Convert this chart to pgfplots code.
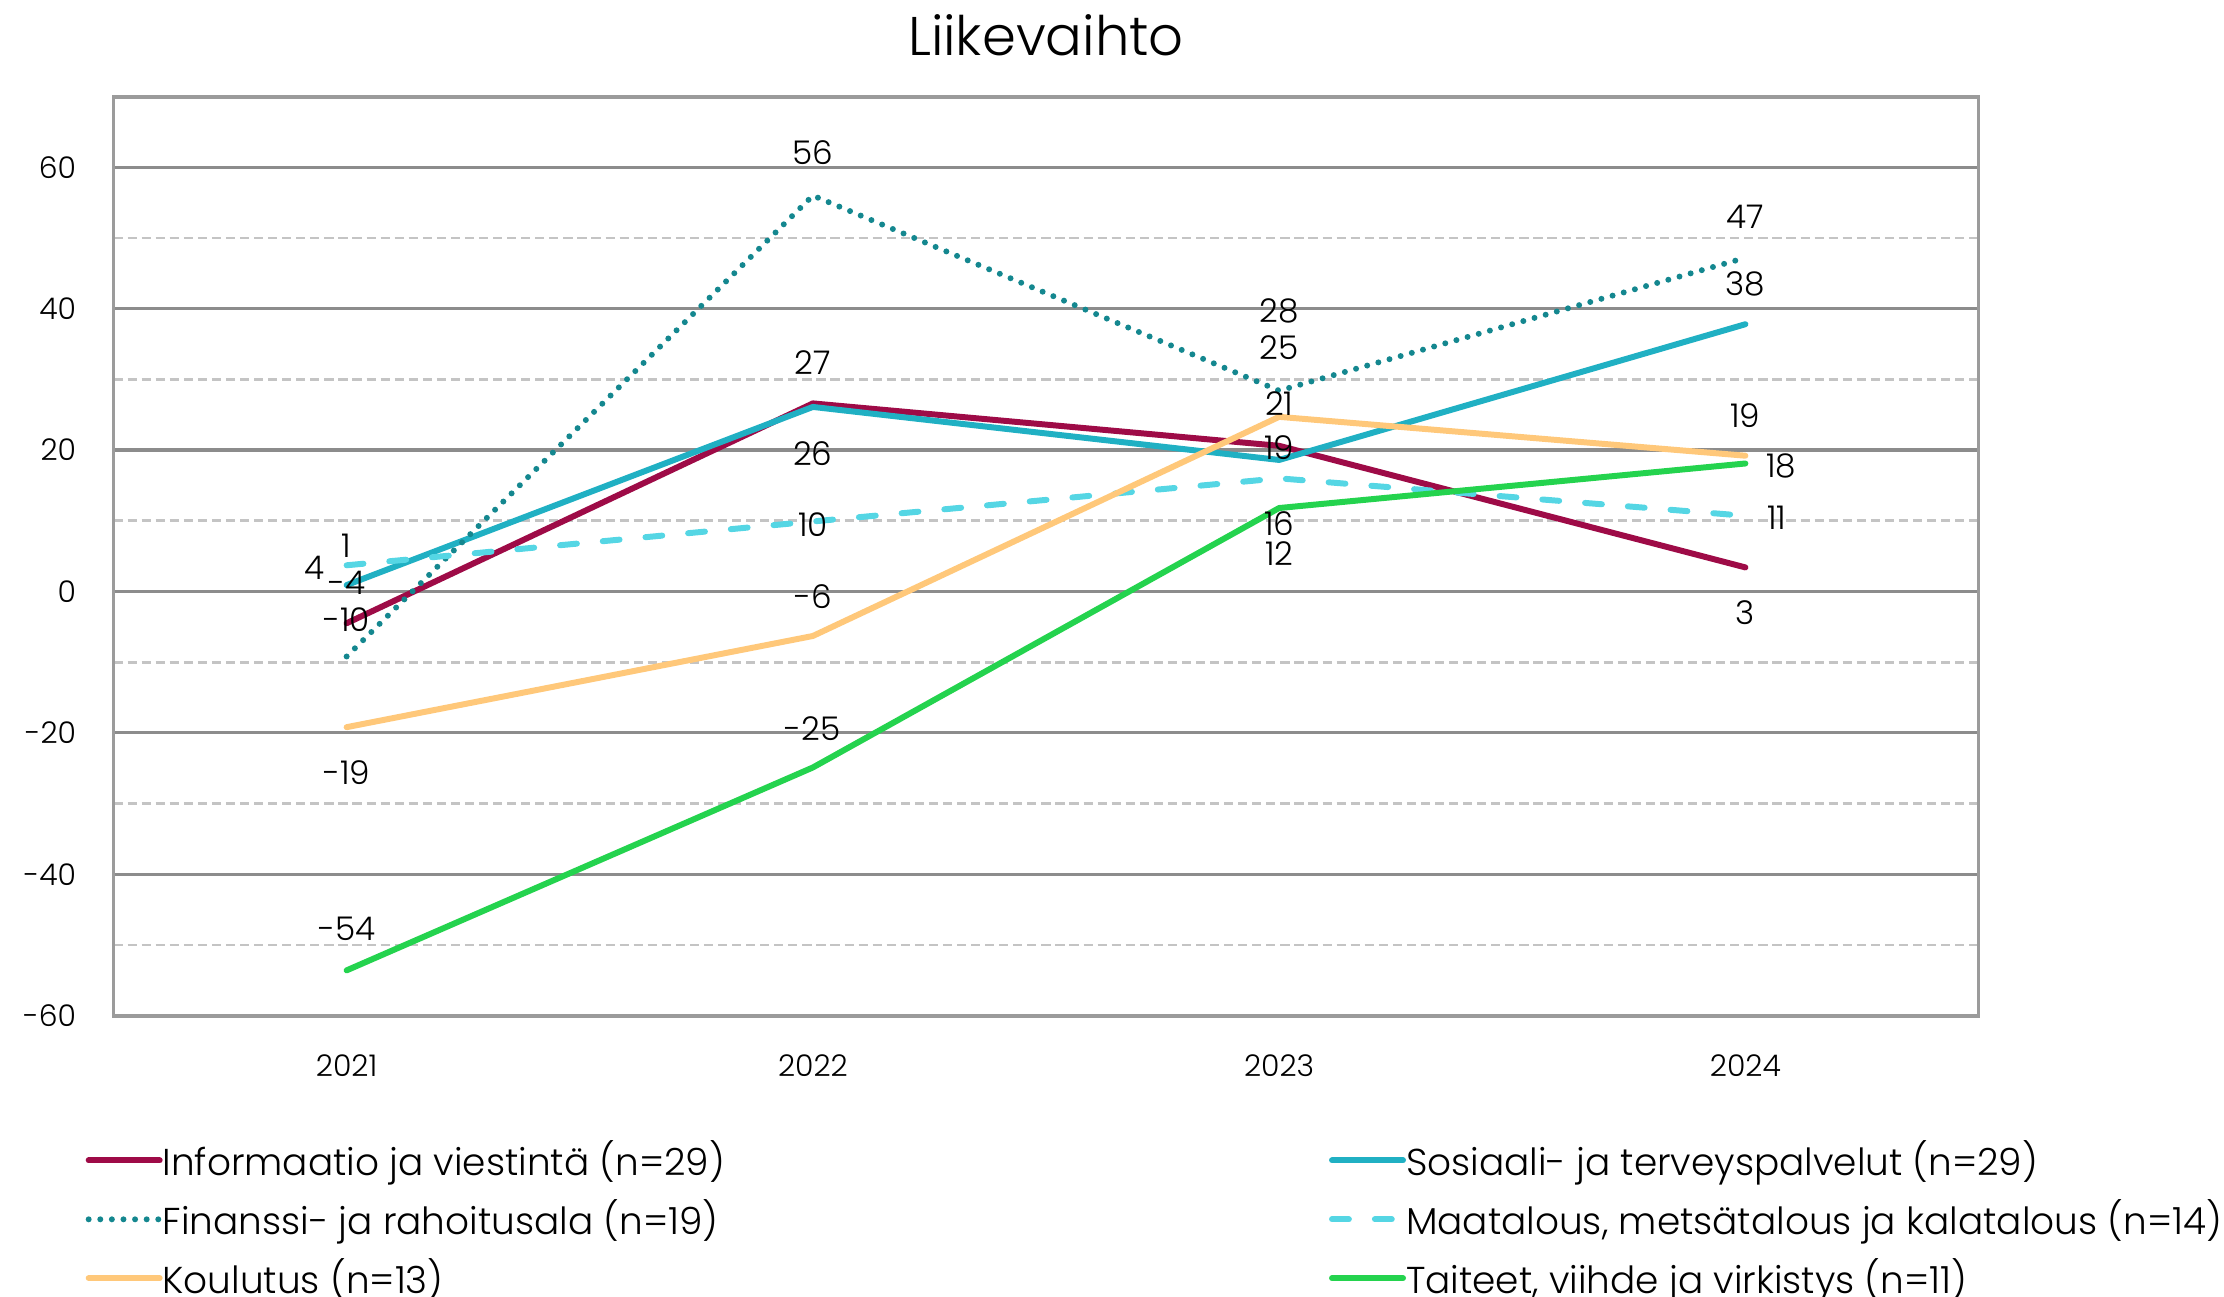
\documentclass[border=0pt]{standalone}
\usepackage{fontspec}
\setmainfont{Poppins}[UprightFont=* Light]
\usepackage{pgfplots}
\usepackage{pgfplotstable}
\pgfplotsset{compat=1.18}
\definecolor{cinfo}{HTML}{9E0B47}
\definecolor{csos}{HTML}{20B0C3}
\definecolor{cfin}{HTML}{14878F}
\definecolor{cmaa}{HTML}{55D6E4}
\definecolor{ckou}{HTML}{FFC87A}
\definecolor{ctai}{HTML}{24D34E}
\definecolor{gridmaj}{HTML}{8C8C8C}
\definecolor{gridmin}{HTML}{C4C4C4}
\definecolor{boxgray}{HTML}{9B9B9B}

% x y label, label offset dx dy in mm
\pgfplotstableread{
x y lab dx dy
0 -4.5 -4 0 4.07
1 26.6 27 0 4.11
2 20.6 21 0 4.26
3 3.4 3 0 -4.50
}\tinfo
\pgfplotstableread{
x y lab dx dy
0 0.9 1 0 3.97
1 26.1 26 0 -4.68
2 18.6 19 0 1.25
3 37.8 38 0 4.04
}\tsos
\pgfplotstableread{
x y lab dx dy
0 -9.2 -10 0 3.73
1 56.0 56 0 4.26
2 28.4 28 0 8.00
3 47.2 47 0 4.10
}\tfin
\pgfplotstableread{
x y lab dx dy
0 3.7 4 -3.26 -0.23
1 9.9 10 0 -0.27
2 16.0 16 0 -4.54
3 10.7 11 3.16 -0.24
}\tmaa
\pgfplotstableread{
x y lab dx dy
0 -19.2 -19 0 -4.54
1 -6.3 -6 0 3.93
2 24.7 25 0 6.92
3 19.2 19 0 4.04
}\tkou
\pgfplotstableread{
x y lab dx dy
0 -53.6 -54 0 4.11
1 -24.9 -25 0 3.90
2 11.8 12 0 -4.54
3 18.1 18 3.60 -0.23
}\ttai

\pgfplotsset{
  lbl/.style={
    line width=1.7pt, line cap=round, line join=round,
    nodes near coords, point meta=explicit symbolic,
    visualization depends on={\thisrow{dx} \as \dx},
    visualization depends on={\thisrow{dy} \as \dy},
    every node near coord/.append style={anchor=center, inner sep=0pt,
      xshift=\dx*1mm, yshift=\dy*1mm, text=black,
      font=\fontsize{9.3}{11}\selectfont},
  }
}

\begin{document}
\begin{tikzpicture}
\begin{axis}[
  scale only axis, width=18.65cm, height=9.19cm,
  at={(0,0)}, anchor=south west, clip=false,
  xmin=-0.5, xmax=3.5, ymin=-60, ymax=70,
  xtick={0,1,2,3}, xticklabels={2021,2022,2023,2024},
  ytick={-60,-40,...,60}, minor ytick={-50,-30,...,50},
  ymajorgrids, yminorgrids,
  major grid style={color=gridmaj, line width=0.9pt},
  minor grid style={color=gridmin, line width=0.8pt, dash pattern=on 2.6pt off 1.4pt},
  axis line style={color=boxgray, line width=1.1pt},
  major tick length=0pt, minor tick length=0pt,
  /pgf/number format/assume math mode=true,
  tick label style={font=\fontsize{8.5}{10}\selectfont},
  xticklabel style={yshift=-2.7mm},
  yticklabel style={xshift=-2.5mm},
  title={Liikevaihto},
  title style={at={(0.5,1)}, anchor=center, yshift=4.0mm, font=\fontsize{15.5}{18}\selectfont},
  legend columns=2, legend cell align=left,
  legend image code/.code={\draw[#1] (0mm,0mm) -- (7.1mm,0mm);},
  legend style={at={(0,0)}, anchor=north west, xshift=-2.85mm, yshift=-11.7mm,
    draw=none, fill=none, inner sep=0pt, row sep=1.3pt,
    font=\fontsize{10.65}{12.5}\selectfont,
    nodes={inner xsep=0pt},
    /tikz/every even column/.append style={column sep=6.04cm}},
]
\addplot[cinfo, lbl] table[x=x, y=y, meta=lab] {\tinfo};
\addlegendentry{Informaatio ja viestintä (n=29)}
\addplot[csos, lbl] table[x=x, y=y, meta=lab] {\tsos};
\addlegendentry{Sosiaali- ja terveyspalvelut (n=29)}
\addplot[cfin, lbl, dash pattern=on 0pt off 3.3pt] table[x=x, y=y, meta=lab] {\tfin};
\addlegendentry{Finanssi- ja rahoitusala (n=19)}
\addplot[cmaa, lbl, dash pattern=on 4.8pt off 7.4pt] table[x=x, y=y, meta=lab] {\tmaa};
\addlegendentry{Maatalous, metsätalous ja kalatalous (n=14)}
\addplot[ckou, lbl] table[x=x, y=y, meta=lab] {\tkou};
\addlegendentry{Koulutus (n=13)}
\addplot[ctai, lbl] table[x=x, y=y, meta=lab] {\ttai};
\addlegendentry{Taiteet, viihde ja virkistys (n=11)}
\end{axis}
\pgfresetboundingbox
\useasboundingbox (-1.135,-2.804) rectangle (21.105,10.156);
\end{tikzpicture}
\end{document}
